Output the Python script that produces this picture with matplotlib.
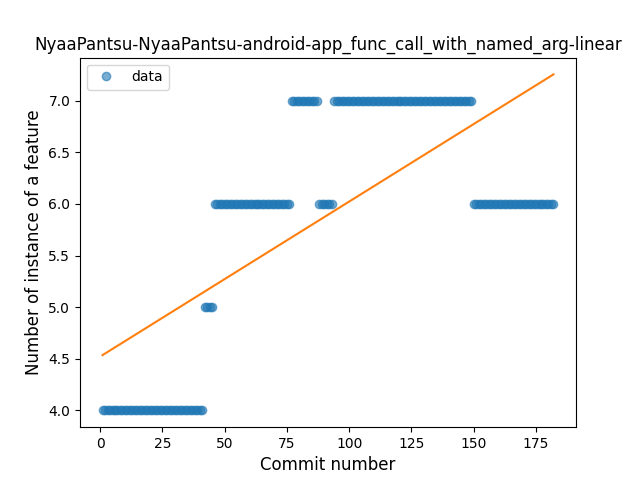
import numpy as np
import matplotlib
matplotlib.use("Agg")
import matplotlib.pyplot as plt

commits = list(range(1, 183))
values = (
    [4.0] * 41 +
    [5.0] * 4 +
    [6.0] * 31 +
    [7.0] * 11 +
    [6.0] * 6 +
    [7.0] * 56 +
    [6.0] * 33
)

x = np.array(commits)
y = np.array(values)
coef = np.polyfit(x, y, 1)
fit = np.polyval(coef, x)

fig, ax = plt.subplots(figsize=(6.4, 4.8), dpi=100)
ax.plot(x, y, 'o', alpha=0.6, label='data')
ax.plot(x, fit)
ax.set_title('NyaaPantsu-NyaaPantsu-android-app_func_call_with_named_arg-linear')
ax.set_xlabel('Commit number', fontsize=12)
ax.set_ylabel('Number of instance of a feature', fontsize=12)
ax.legend(loc='upper left')
fig.savefig('out.png')
